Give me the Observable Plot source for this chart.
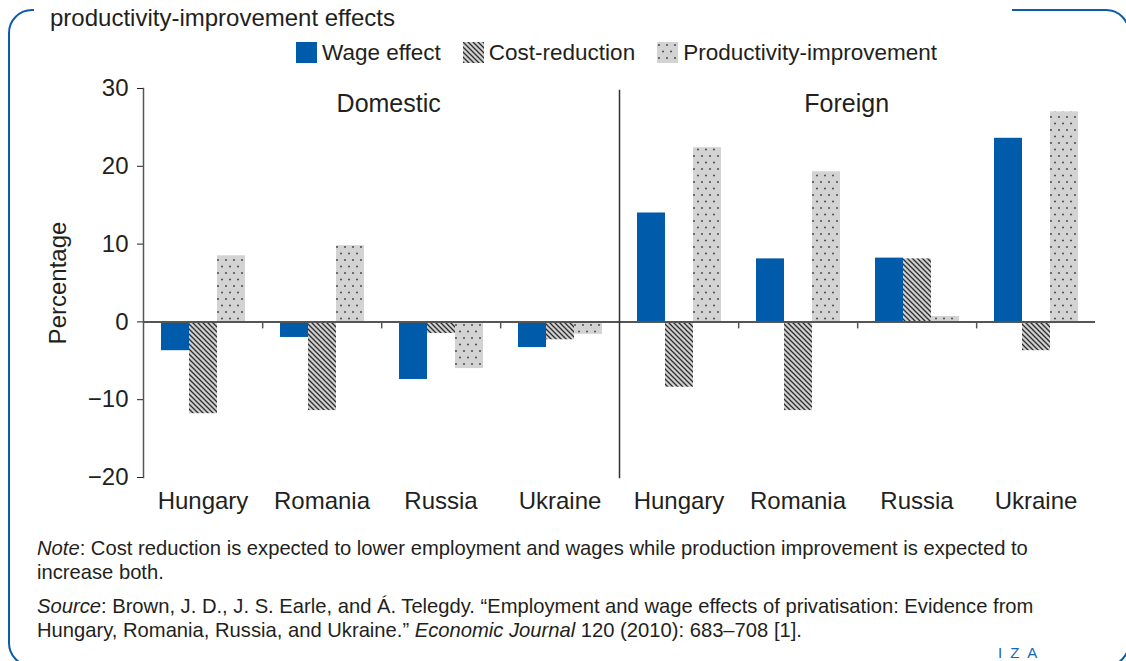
<!DOCTYPE html>
<html>
<head>
<meta charset="utf-8">
<script src="https://cdn.jsdelivr.net/npm/d3@7"></script>
<script src="https://cdn.jsdelivr.net/npm/@observablehq/plot@0.6"></script>
<style>
  html, body { margin: 0; padding: 0; }
  body { width: 1126px; height: 661px; overflow: hidden; background: #fff; position: relative;
         font-family: "Liberation Sans", Arial, sans-serif; color: #231f20; }
  #frame { position: absolute; left: 8px; top: 9px; width: 1122px; height: 658px;
           border: 2.5px solid #0b5cab; border-radius: 24px; box-sizing: border-box; }
  #title { position: absolute; left: 34px; top: 0; width: 978px; height: 36px; background: #fff;
           font-size: 24px; line-height: 28px; padding: 4px 0 0 16px; box-sizing: border-box; white-space: nowrap; }
  #legend { position: absolute; left: 296px; top: 36px; }
  #chart { position: absolute; left: 0; top: 75px; }
  #notes { position: absolute; left: 37px; top: 536px; font-size: 20.2px; line-height: 24px; white-space: nowrap; }
  #notes p { margin: 0 0 10px 0; }
  #iza { position: absolute; left: 998px; top: 645px; font-size: 15px; line-height: 15px; letter-spacing: 8px; color: #1565b5; }
  .lg-swatch { margin-right: 22px !important; }
  .lg-swatch svg { margin-right: 5px !important; }
</style>
</head>
<body>
<svg width="0" height="0" style="position:absolute">
  <defs>
    <pattern id="hatch" patternUnits="userSpaceOnUse" width="5" height="5">
      <rect width="5" height="5" fill="#d0d0d0"></rect>
      <path d="M0,0L5,5M-1,4L1,6M4,-1L6,1" stroke="#2e2e2e" stroke-width="1.3"></path>
    </pattern>
    <pattern id="dots" patternUnits="userSpaceOnUse" width="8" height="13">
      <rect width="8" height="13" fill="#d3d3d3"></rect>
      <rect x="1.2" y="2.2" width="1.6" height="1.6" fill="#333"></rect>
      <rect x="5.2" y="8.7" width="1.6" height="1.6" fill="#333"></rect>
    </pattern>
  </defs>
</svg>
<div id="frame"></div>
<div id="title">productivity-improvement effects</div>
<div id="legend"></div>
<div id="chart"></div>
<div id="notes">
  <p><i>Note</i>: Cost reduction is expected to lower employment and wages while production improvement is expected to<br>increase both.</p>
  <p><i>Source</i>: Brown, J. D., J. S. Earle, and Á. Telegdy. “Employment and wage effects of privatisation: Evidence from<br>Hungary, Romania, Russia, and Ukraine.” <i>Economic Journal</i> 120 (2010): 683–708 [1].</p>
</div>
<div id="iza">IZA</div>
<script>
// ---- data ----
const series = ["Wage effect", "Cost-reduction", "Productivity-improvement"];
const ownership = ["Domestic", "Foreign"];
const countries = ["Hungary", "Romania", "Russia", "Ukraine"];
const domesticWage = [-3.7, -2.0, -7.4, -3.3];
const domesticCost = [-11.8, -11.4, -1.5, -2.3];
const domesticProd = [8.5, 9.8, -6.0, -1.6];
const foreignWage = [14.0, 8.1, 8.2, 23.6];
const foreignCost = [-8.4, -11.4, 8.1, -3.7];
const foreignProd = [22.4, 19.3, 0.7, 27.0];
const yTicks = [-20, -10, 0, 10, 20, 30];
const seriesFills = ["#005baa", "url(#hatch)", "url(#dots)"];

// ---- build table ----
const valueTable = {
  Domestic: [domesticWage, domesticCost, domesticProd],
  Foreign: [foreignWage, foreignCost, foreignProd]
};
const groups = [];
ownership.forEach(o => countries.forEach(c => groups.push(o + "|" + c)));
const rows = [];
ownership.forEach(o => countries.forEach((c, i) => series.forEach((s, j) =>
  rows.push({group: o + "|" + c, series: s, value: valueTable[o][j][i]}))));
const tickGroups = groups.filter((g, i) => i % 4 !== 3);

// ---- layout ----
const W = 1126, ML = 143, MR = 31, PO = 0.6;
const facetW = (W - ML - MR) / groups.length;
const step = facetW / (series.length + 2 * PO);
const edge = step / 2 + PO * step; // from centre of last band to facet edge
const font = '"Liberation Sans", Arial, sans-serif';
const ink = "#231f20", axisGray = "#555";

const plot = Plot.plot({
  width: W,
  height: 450,
  marginTop: 13,
  marginBottom: 48,
  marginLeft: ML,
  marginRight: MR,
  style: {fontFamily: font, fontSize: "24px", color: ink, background: "transparent", overflow: "visible"},
  fx: {domain: groups, padding: 0, axis: "bottom", label: null, tickSize: 0, tickPadding: 14,
       tickFormat: d => d.split("|")[1]},
  x: {domain: series, paddingInner: 0, paddingOuter: PO, axis: null},
  y: {domain: [-20, 30], ticks: yTicks, tickSize: 6, tickPadding: 9,
      tickFormat: d => d < 0 ? "\u2212" + Math.abs(d) : String(d),
      label: "Percentage", labelArrow: "none", labelAnchor: "center", labelOffset: 95},
  color: {domain: series, range: seriesFills},
  marks: [
    Plot.barY(rows, {fx: "group", x: "series", y: "value", fill: "series"}),
    Plot.ruleY([0], {stroke: axisGray, strokeWidth: 2}),
    Plot.ruleX(tickGroups, {fx: d => d, x: () => series[2], y1: 0, y2: -0.9, dx: edge,
                            stroke: axisGray, strokeWidth: 1.5}),
    Plot.frame({anchor: "left", fx: () => groups[0], stroke: axisGray, strokeWidth: 1.5}),
    Plot.frame({anchor: "left", fx: () => groups[4], stroke: "#333", strokeWidth: 1.5, insetTop: 2}),
    Plot.text([ownership[0]], {fx: () => groups[1], x: () => series[2], text: d => d,
                               frameAnchor: "top", lineAnchor: "middle", dx: edge + 7, dy: 15, fontSize: 25, fill: ink}),
    Plot.text([ownership[1]], {fx: () => groups[5], x: () => series[2], text: d => d,
                               frameAnchor: "top", lineAnchor: "middle", dx: edge - 11, dy: 15, fontSize: 25, fill: ink})
  ]
});
document.getElementById("chart").appendChild(plot);

const legend = plot.legend("color", {
  className: "lg",
  swatchSize: 21,
  style: {fontFamily: font, fontSize: "22.5px", color: ink}
});
document.getElementById("legend").appendChild(legend);
</script>
</body>
</html>
